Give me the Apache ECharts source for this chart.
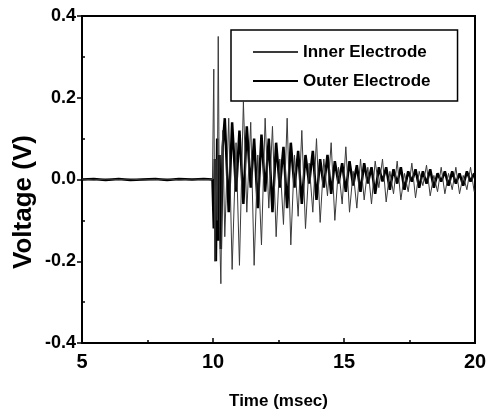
<!DOCTYPE html>
<html>
<head>
<meta charset="utf-8">
<script src="https://cdn.jsdelivr.net/npm/echarts@6/dist/echarts.min.js"></script>
<style>html,body{margin:0;padding:0;background:#fff;}#c{width:490px;height:415px;}</style>
</head>
<body>
<div id="c"></div>
<script>
// Time axis samples (msec)
var timeMs = [5.00,5.45,5.90,6.40,6.85,7.30,7.80,8.25,8.70,9.20,9.65,9.98,
  10.03,10.07,10.11,10.16,10.20,10.25,10.30,10.37,
  10.45,10.60,10.73,10.88,11.01,11.16,11.29,11.44,11.57,11.71,11.85,11.99,12.13,12.27,12.41,12.55,12.69,12.83,12.97,13.11,
  13.25,13.39,13.53,13.67,13.81,13.95,14.09,14.23,14.37,14.51,14.65,14.79,14.93,15.07,15.21,15.35,15.49,15.63,15.77,15.91,
  16.05,16.19,16.33,16.47,16.61,16.75,16.89,17.03,17.17,17.31,17.45,17.59,17.73,17.87,18.01,18.15,18.29,18.43,18.57,18.71,
  18.85,18.99,19.13,19.27,19.41,19.55,19.69,19.83,19.97];
// Inner electrode voltage (V)
var innerV = [0.001,-0.001,0.001,0.000,0.001,-0.001,0.000,0.001,-0.001,0.001,0.000,0.000,
  0.27,-0.20,0.05,-0.10,0.35,-0.12,-0.255,0.12,
  -0.14,0.15,-0.22,0.09,-0.21,0.19,-0.08,0.14,-0.21,0.06,-0.16,0.15,-0.07,0.13,-0.14,0.05,-0.11,0.15,-0.16,0.06,
  -0.09,0.12,-0.12,0.04,-0.08,0.10,-0.105,0.05,-0.04,0.09,-0.10,0.03,-0.06,0.08,-0.08,0.02,-0.07,0.05,-0.05,0.03,
  -0.06,0.045,-0.02,0.05,-0.055,0.02,-0.035,0.045,-0.05,0.015,-0.03,0.04,-0.045,0.02,-0.015,0.035,-0.04,0.01,-0.03,0.03,
  -0.035,0.015,-0.025,0.03,-0.035,0.01,-0.025,0.03,-0.03];
// Outer electrode voltage (V)
var outerV = [0.000,0.001,-0.001,0.001,-0.001,0.000,0.001,-0.001,0.001,0.000,0.001,0.000,
  -0.12,0.05,-0.20,0.10,-0.15,0.06,-0.17,0.08,
  0.15,-0.08,0.14,-0.03,0.12,-0.06,0.13,-0.02,0.10,-0.07,0.11,-0.03,0.10,-0.08,0.09,-0.02,0.08,-0.07,0.09,-0.02,
  0.07,-0.06,0.06,-0.01,0.07,-0.05,0.05,-0.02,0.06,-0.035,0.045,-0.01,0.04,-0.03,0.045,-0.015,0.035,-0.03,0.04,-0.01,
  0.03,-0.035,0.03,-0.005,0.03,-0.025,0.025,-0.01,0.03,-0.025,0.02,-0.005,0.025,-0.02,0.02,-0.01,0.025,-0.02,0.015,-0.005,
  0.02,-0.015,0.02,-0.01,0.015,-0.015,0.02,-0.005,0.015];
var seriesNames = ['Inner Electrode','Outer Electrode'];
var xTicks = [5,10,15,20];
var yTicks = [-0.4,-0.2,0.0,0.2,0.4];

function pairs(t, v){ return t.map(function(x,i){ return [x, v[i]]; }); }
var FONT = 'Liberation Sans, Arial, sans-serif';
var chart = echarts.init(document.getElementById('c'), null, {renderer:'canvas'});
chart.setOption({
  animation:false,
  backgroundColor:'#fff',
  grid:{left:82,right:15,top:16,bottom:68,show:true,borderColor:'#000',borderWidth:2,backgroundColor:'transparent'},
  legend:{
    show:true,
    data:[{name:seriesNames[0]},{name:seriesNames[1]}], orient:'vertical', left:231, top:30,
    padding:[12,27,10,21], itemGap:9, itemWidth:45, itemHeight:14,
    borderColor:'#000', borderWidth:1.5, backgroundColor:'#fff',
    itemStyle:{opacity:0},
    textStyle:{fontFamily:FONT,fontWeight:'bold',fontSize:17,color:'#000',lineHeight:20},
    selectedMode:false, z:10
  },
  xAxis:[{
    type:'value', min:xTicks[0], max:xTicks[xTicks.length-1], interval:5,
    name:'Time (msec)', nameLocation:'middle', nameGap:50,
    nameTextStyle:{fontFamily:FONT,fontWeight:'bold',fontSize:17,color:'#000'},
    axisLine:{show:true,onZero:false,lineStyle:{color:'#000',width:2}},
    axisTick:{show:true,inside:true,length:5,lineStyle:{color:'#000',width:1.5}},
    minorTick:{show:true,splitNumber:2,length:3,lineStyle:{color:'#000',width:1.5}},
    axisLabel:{fontFamily:FONT,fontWeight:'bold',fontSize:20,color:'#000',margin:9},
    splitLine:{show:false}
  }],
  yAxis:[{
    type:'value', min:yTicks[0], max:yTicks[yTicks.length-1], interval:0.2,
    axisLine:{show:true,onZero:false,lineStyle:{color:'#000',width:2}},
    axisTick:{show:true,inside:false,length:5,lineStyle:{color:'#000',width:1.5}},
    axisLabel:{fontFamily:FONT,fontWeight:'bold',fontSize:18,color:'#000',margin:6,
      formatter:function(v){ return v.toFixed(1); }},
    splitLine:{show:false}
  },{
    type:'value', position:'left', min:yTicks[0], max:yTicks[yTicks.length-1], interval:0.2,
    axisLine:{show:false}, axisLabel:{show:false}, splitLine:{show:false},
    axisTick:{show:false,inside:true},
    minorTick:{show:true,splitNumber:2,length:3,lineStyle:{color:'#000',width:1.5}}
  }],
  graphic:[{
    type:'text', x:24, y:202, rotation:Math.PI/2,
    style:{text:'Voltage (V)', fontFamily:FONT, fontWeight:'bold', fontSize:26, fill:'#000',
      textAlign:'center', textVerticalAlign:'middle'}
  }],
  series:[{
    name:seriesNames[1], type:'line', data:pairs(timeMs, outerV), showSymbol:false, symbol:'none',
    lineStyle:{color:'#000',width:2.5}, itemStyle:{color:'#000'}, z:2
  },{
    name:seriesNames[0], type:'line', data:pairs(timeMs, innerV), showSymbol:false, symbol:'none',
    lineStyle:{color:'#3a3a3a',width:1}, itemStyle:{color:'#3a3a3a'}, z:3
  }]
});
</script>
</body>
</html>
